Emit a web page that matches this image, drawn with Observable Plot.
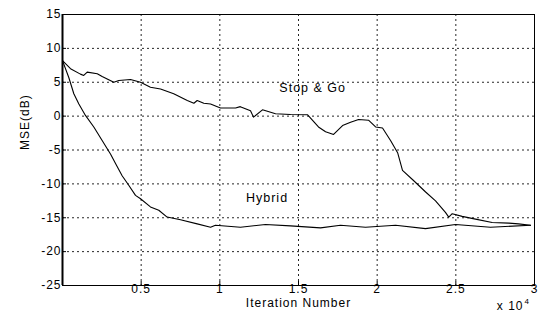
<!DOCTYPE html>
<html>
<head>
<meta charset="utf-8">
<script src="https://cdn.jsdelivr.net/npm/d3@7"></script>
<script src="https://cdn.jsdelivr.net/npm/@observablehq/plot@0.6"></script>
<style>
  html, body { margin: 0; padding: 0; background: #fff; }
  #chart svg { display: block; }
</style>
</head>
<body>
<div id="chart"></div>
<script>
// Iteration number (x 10^4) and MSE (dB)
const stopGoX = [0, 0.051, 0.114, 0.135, 0.157, 0.221, 0.252, 0.326, 0.358, 0.432, 0.496, 0.559, 0.623, 0.707, 0.793, 0.835, 0.856, 0.898, 0.941, 1.004, 1.10, 1.13, 1.195, 1.214, 1.271, 1.354, 1.449, 1.558, 1.627, 1.672, 1.723, 1.780, 1.831, 1.882, 1.945, 1.990, 2.034, 2.085, 2.130, 2.161, 2.231, 2.308, 2.371, 2.434, 2.455, 2.477, 2.540, 2.625, 2.731, 2.837, 2.898, 2.975];
const stopGoY = [8.2, 7.0, 6.2, 6.0, 6.5, 6.25, 5.85, 5.0, 5.25, 5.4, 5.0, 4.27, 4.0, 3.3, 2.3, 1.9, 2.3, 1.9, 1.8, 1.2, 1.2, 1.4, 0.8, -0.15, 0.93, 0.34, 0.24, 0.2, -1.6, -2.3, -2.7, -1.4, -0.9, -0.5, -0.6, -1.6, -1.75, -3.6, -5.4, -8.0, -9.5, -11.2, -12.5, -14.2, -14.9, -14.4, -14.8, -15.2, -15.7, -15.8, -15.9, -16.1];

const hybridX = [0, 0.040, 0.072, 0.104, 0.146, 0.199, 0.252, 0.305, 0.337, 0.379, 0.421, 0.464, 0.496, 0.559, 0.612, 0.665, 0.750, 0.856, 0.941, 0.972, 1.131, 1.290, 1.449, 1.640, 1.767, 1.926, 2.117, 2.307, 2.498, 2.720, 2.975];
const hybridY = [8.2, 5.7, 3.3, 1.8, 0.1, -1.6, -3.6, -5.6, -7.0, -8.8, -10.2, -11.7, -12.2, -13.4, -13.9, -14.9, -15.3, -15.9, -16.4, -16.1, -16.4, -16.0, -16.2, -16.5, -16.1, -16.4, -16.1, -16.6, -16.0, -16.4, -16.1];

const xTicks = [0.5, 1, 1.5, 2, 2.5, 3];
const xTickLabels = ["0.5", "1", "1.5", "2", "2.5", "3"];
const yTicks = [-25, -20, -15, -10, -5, 0, 5, 10, 15];
const xGrid = [0.5, 1, 1.5, 2, 2.5];
const yGrid = [-20, -15, -10, -5, 0, 5, 10];

const seriesLabels = [
  {name: "Stop & Go", x: 1.59, y: 4.2},
  {name: "Hybrid", x: 1.30, y: -12.1}
];

const stopGo = stopGoX.map((x, i) => ({x, y: stopGoY[i]}));
const hybrid = hybridX.map((x, i) => ({x, y: hybridY[i]}));

const font = "'Liberation Sans', Arial, sans-serif";

const chart = Plot.plot({
  width: 546,
  height: 319,
  marginLeft: 62,
  marginRight: 12,
  marginTop: 14,
  marginBottom: 34,
  style: {fontFamily: font, fontSize: "12px", letterSpacing: "1px", color: "#000", background: "#fff"},
  x: {domain: [0, 3]},
  y: {domain: [-25, 15]},
  marks: [
    Plot.gridX(xGrid, {stroke: "#000", strokeOpacity: 0.85, strokeDasharray: "2,3", strokeWidth: 1}),
    Plot.gridY(yGrid, {stroke: "#000", strokeOpacity: 0.85, strokeDasharray: "2,3", strokeWidth: 1}),
    Plot.axisX({ticks: xTicks, tickFormat: (d) => xTickLabels[xTicks.indexOf(d)], tickSize: -4, tickPadding: 3, label: null, fontSize: 12}),
    Plot.axisY({ticks: yTicks, tickFormat: (d) => String(d), tickSize: -4, tickPadding: 5, label: null, fontSize: 12}),
    Plot.frame({stroke: "#000", strokeWidth: 1}),
    Plot.ruleX([0], {stroke: "#000", strokeWidth: 2}),
    Plot.line(stopGo, {x: "x", y: "y", stroke: "#000", strokeWidth: 1.1}),
    Plot.line(hybrid, {x: "x", y: "y", stroke: "#000", strokeWidth: 1.1}),
    Plot.text(seriesLabels, {x: "x", y: "y", text: "name", fill: "#000", fontSize: 12.5}),
    Plot.text(["Iteration Number"], {frameAnchor: "bottom", dy: 21, fill: "#000", fontSize: 12}),
    Plot.text(["x 10"], {frameAnchor: "bottom-right", textAnchor: "end", dx: -11, dy: 24, fill: "#000", fontSize: 12}),
    Plot.text(["4"], {frameAnchor: "bottom-right", textAnchor: "start", dx: -10, dy: 18, fill: "#000", fontSize: 8, letterSpacing: 0}),
    Plot.text(["MSE(dB)"], {frameAnchor: "left", dx: -37, rotate: -90, fill: "#000", fontSize: 12})
  ]
});
document.getElementById("chart").appendChild(chart);
</script>
</body>
</html>
